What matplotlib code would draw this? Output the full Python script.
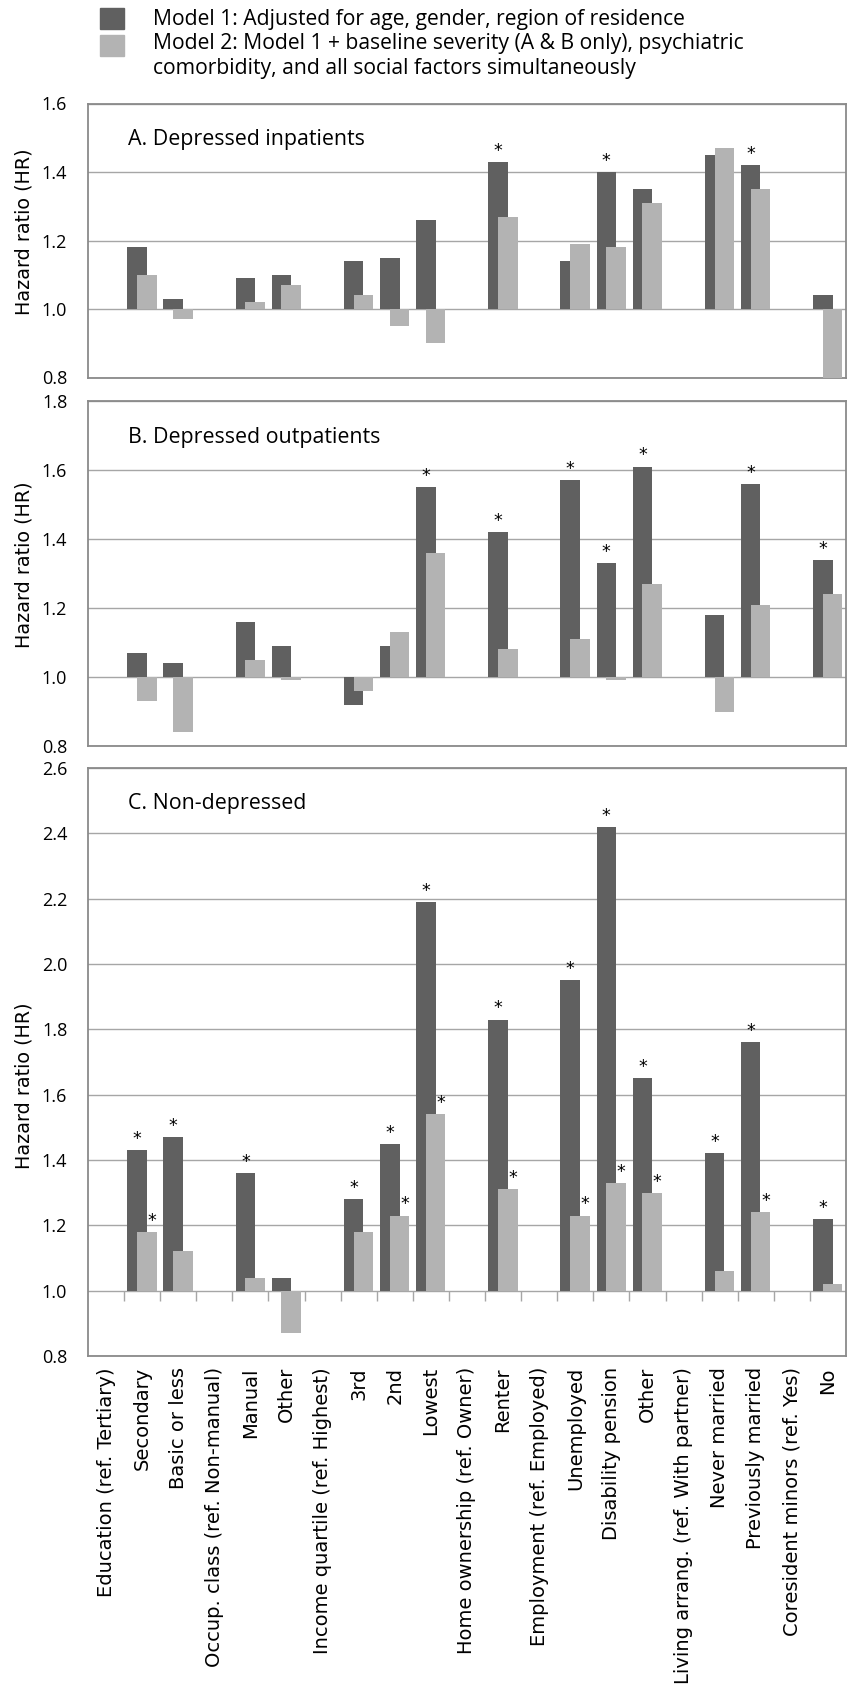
import numpy as np
import matplotlib.pyplot as plt
from matplotlib.patches import Rectangle

nan = np.nan

categories = ['Education (ref. Tertiary)', 'Secondary', 'Basic or less',
              'Occup. class (ref. Non-manual)', 'Manual', 'Other',
              'Income quartile (ref. Highest)', '3rd', '2nd', 'Lowest',
              'Home ownership (ref. Owner)', 'Renter',
              'Employment (ref. Employed)', 'Unemployed', 'Disability pension', 'Other',
              'Living arrang. (ref. With partner)', 'Never married', 'Previously married',
              'Coresident minors (ref. Yes)', 'No']

# A. Depressed inpatients
a_model1 = [nan, 1.18, 1.03, nan, 1.09, 1.10, nan, 1.14, 1.15, 1.26, nan, 1.43,
            nan, 1.14, 1.40, 1.35, nan, 1.45, 1.42, nan, 1.04]
a_model2 = [nan, 1.10, 0.97, nan, 1.02, 1.07, nan, 1.04, 0.95, 0.90, nan, 1.27,
            nan, 1.19, 1.18, 1.31, nan, 1.47, 1.35, nan, 0.80]
a_sig1 = [11, 14, 18]
a_sig2 = []

# B. Depressed outpatients
b_model1 = [nan, 1.07, 1.04, nan, 1.16, 1.09, nan, 0.92, 1.09, 1.55, nan, 1.42,
            nan, 1.57, 1.33, 1.61, nan, 1.18, 1.56, nan, 1.34]
b_model2 = [nan, 0.93, 0.84, nan, 1.05, 0.99, nan, 0.96, 1.13, 1.36, nan, 1.08,
            nan, 1.11, 0.99, 1.27, nan, 0.90, 1.21, nan, 1.24]
b_sig1 = [9, 11, 13, 14, 15, 18, 20]
b_sig2 = []

# C. Non-depressed
c_model1 = [nan, 1.43, 1.47, nan, 1.36, 1.04, nan, 1.28, 1.45, 2.19, nan, 1.83,
            nan, 1.95, 2.42, 1.65, nan, 1.42, 1.76, nan, 1.22]
c_model2 = [nan, 1.18, 1.12, nan, 1.04, 0.87, nan, 1.18, 1.23, 1.54, nan, 1.31,
            nan, 1.23, 1.33, 1.30, nan, 1.06, 1.24, nan, 1.02]
c_sig1 = [1, 2, 4, 7, 8, 9, 11, 13, 14, 15, 17, 18, 20]
c_sig2 = [1, 8, 9, 11, 13, 14, 15, 18]

legend_labels = ['Model 1: Adjusted for age, gender, region of residence',
                 'Model 2: Model 1 + baseline severity (A & B only), psychiatric\n'
                 'comorbidity, and all social factors simultaneously']

DARK = '#606060'
LIGHT = '#b3b3b3'
GRID = '#a6a6a6'
FRAME = '#8a8a8a'
SANS = ['Open Sans', 'DejaVu Sans']

W, H = 848, 1691
fig = plt.figure(figsize=(W / 100, H / 100), dpi=100)

def px_axes(top, bottom, left=88, right=846):
    return [left / W, 1 - bottom / H, (right - left) / W, (bottom - top) / H]

panels = [
    ('A. Depressed inpatients', a_model1, a_model2, a_sig1, a_sig2, (0.8, 1.6), px_axes(103.5, 377.5), 0.533),
    ('B. Depressed outpatients', b_model1, b_model2, b_sig1, b_sig2, (0.8, 1.8), px_axes(401, 746), 0.525),
    ('C. Non-depressed', c_model1, c_model2, c_sig1, c_sig2, (0.8, 2.6), px_axes(768, 1356), 0.46),
]

x = np.arange(len(categories))
bw = 0.54
off1, off2 = -0.14, 0.13

for i, (title, m1, m2, sig1, sig2, ylim, rect, ylab_y) in enumerate(panels):
    ax = fig.add_axes(rect)
    m1 = np.array(m1)
    m2 = np.array(m2)
    ok1 = ~np.isnan(m1)
    ok2 = ~np.isnan(m2)
    ax.bar(x[ok1] + off1, m1[ok1] - 1, width=bw, bottom=1, color=DARK, zorder=2)
    ax.bar(x[ok2] + off2, m2[ok2] - 1, width=bw, bottom=1, color=LIGHT, zorder=3)

    for k in sig1:
        ax.annotate('*', (x[k] + off1, m1[k]), xytext=(0, 1.5), textcoords='offset points',
                    ha='center', va='bottom', fontsize=12.5, family='DejaVu Sans')
    for k in sig2:
        ax.annotate('*', (x[k] + off2 + 0.14, m2[k]), xytext=(0, 1.5), textcoords='offset points',
                    ha='center', va='bottom', fontsize=12.5, family='DejaVu Sans')

    ax.set_xlim(-0.5, len(categories) - 0.5)
    ax.set_ylim(*ylim)
    ax.set_yticks(np.arange(ylim[0], ylim[1] + 0.01, 0.2))
    ax.yaxis.set_major_formatter(plt.FormatStrFormatter('%.1f'))
    ax.yaxis.grid(True, color=GRID, lw=1.0)
    ax.set_axisbelow(True)
    ax.tick_params(axis='y', length=0, pad=15, labelsize=13)
    for lab in ax.get_yticklabels():
        lab.set_family(SANS)
    for sp in ax.spines.values():
        sp.set_color(FRAME)
        sp.set_linewidth(1.3)

    ax.text(-0.084, ylab_y, 'Hazard ratio (HR)', transform=ax.transAxes, rotation=90,
            ha='center', va='center', fontsize=13.8, family='DejaVu Sans')
    ax.text(40 / 758, 1 - 36 / (rect[3] * H), title, transform=ax.transAxes,
            ha='left', va='center', fontsize=15.4, family=SANS)

    if i == 2:
        ax.set_xticks(x)
        ax.set_xticklabels(categories, rotation=90, fontsize=14, family='DejaVu Sans')
        ax.tick_params(axis='x', length=0, pad=8)
        # category tick marks sit on the 1.0 line
        sec = ax.secondary_xaxis((1.0 - ylim[0]) / (ylim[1] - ylim[0]))
        sec.set_xticks(np.arange(0.5, len(categories) - 1, 1.0))
        sec.tick_params(axis='x', direction='out', length=7, color=GRID, width=1,
                        labelbottom=False, labeltop=False)
        sec.spines['bottom'].set_visible(False)
        sec.spines['top'].set_visible(False)
    else:
        ax.set_xticks([])

# legend drawn by hand so the second square lines up with the first text line
fig.patches.append(Rectangle((100 / W, 1 - 29 / H), 24 / W, 21 / H, color=DARK,
                             transform=fig.transFigure, figure=fig))
fig.patches.append(Rectangle((100 / W, 1 - 56 / H), 24 / W, 21 / H, color=LIGHT,
                             transform=fig.transFigure, figure=fig))
fig.text(153 / W, 1 - 19 / H, legend_labels[0], ha='left', va='center', fontsize=15.2, family=SANS)
fig.text(153 / W, 1 - 33 / H, legend_labels[1], ha='left', va='top', fontsize=15.2,
         family=SANS, linespacing=1.25)

fig.savefig('out.png', dpi=100)
